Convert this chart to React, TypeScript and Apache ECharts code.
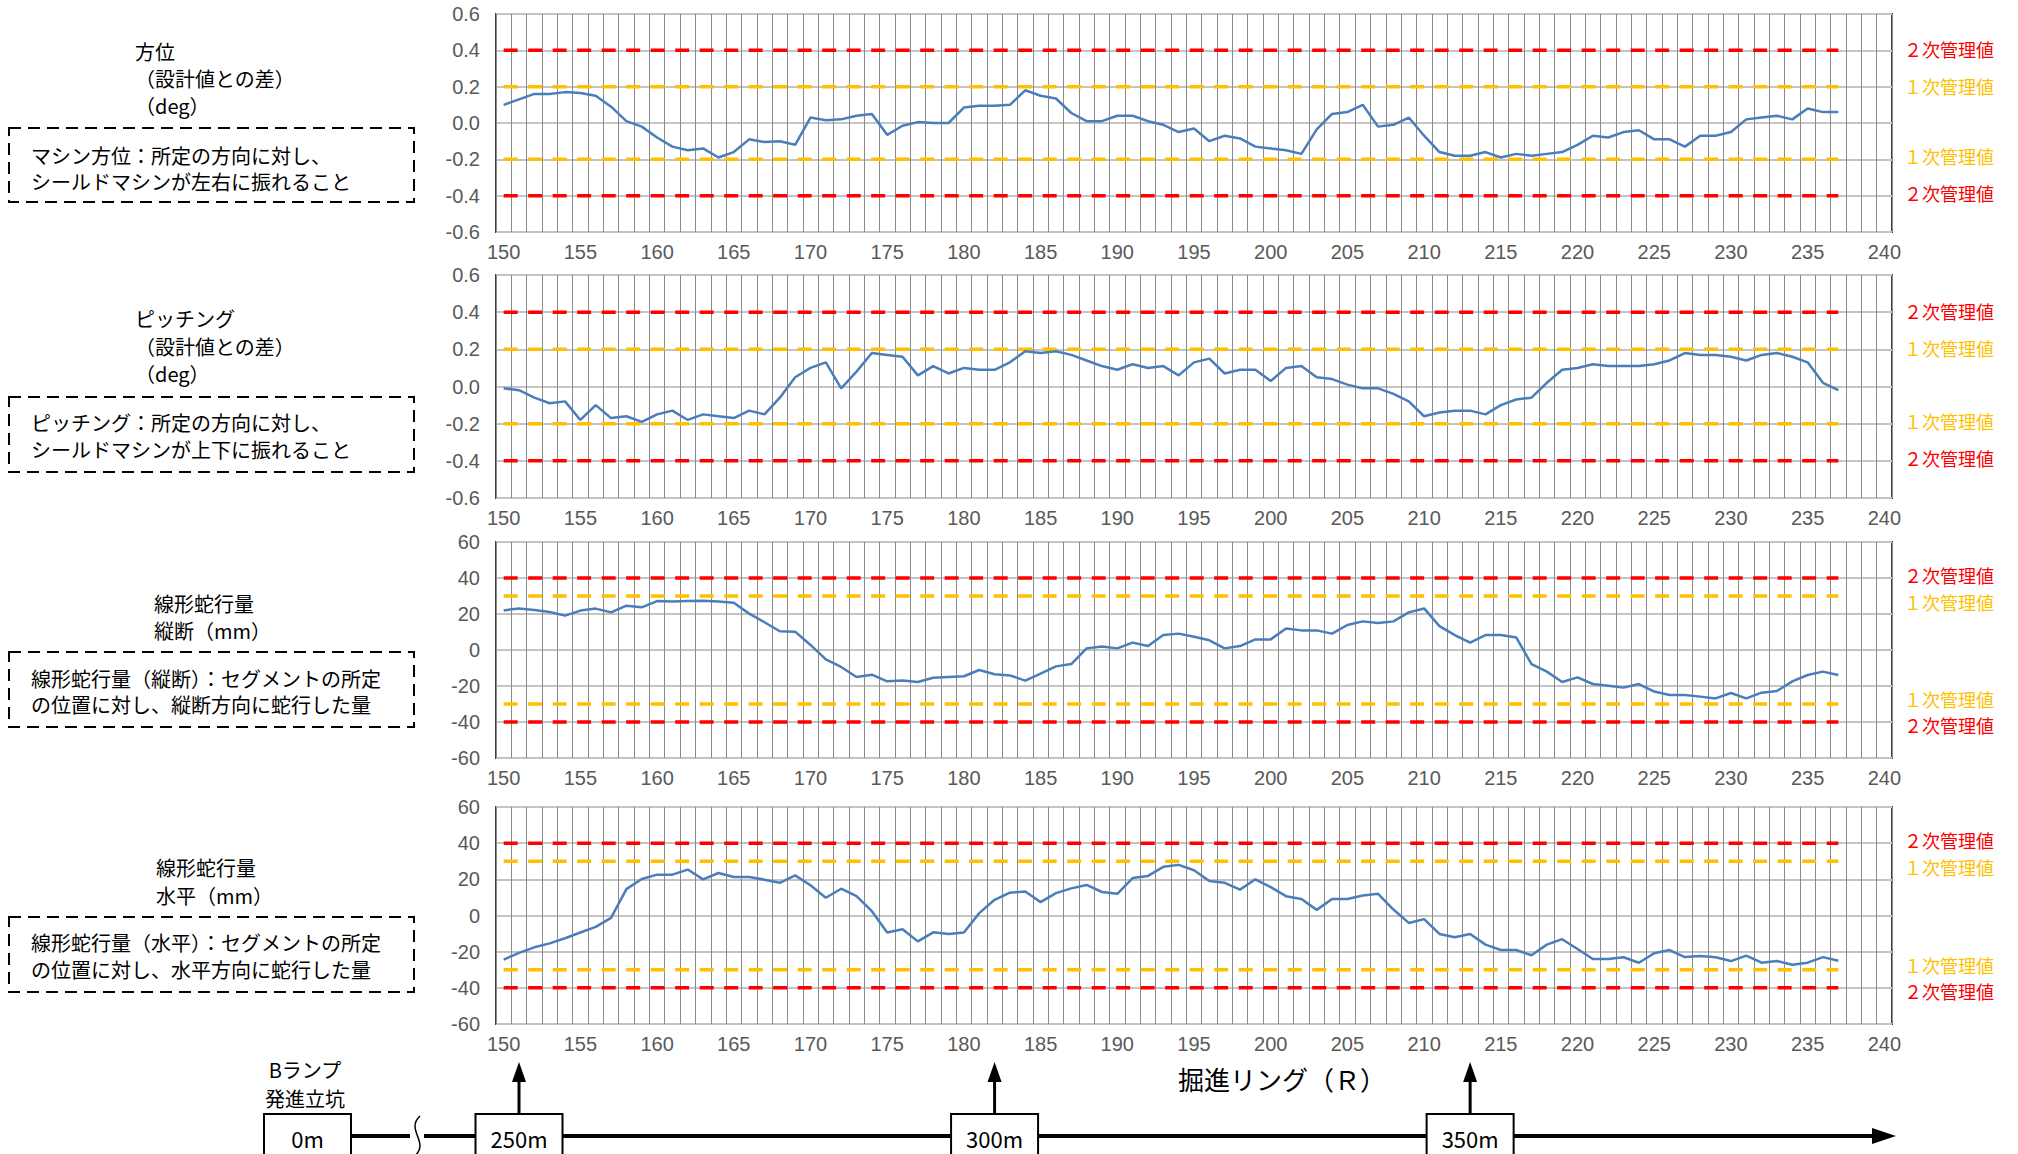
import React, { useEffect, useRef } from "react";
import * as echarts from "echarts";

// ring numbers on the x axis (category axis 150..240)
const ringCategories: string[] = [];
for (let r = 150; r <= 240; r++) ringCategories.push(String(r));

// 方位 (deg) rings 150..237
const azimuthDeg = [
  0.1, 0.13, 0.16, 0.16, 0.17, 0.165, 0.15, 0.09, 0.01, -0.02,
  -0.08, -0.13, -0.15, -0.14, -0.19, -0.16, -0.09, -0.105, -0.1, -0.12,
  0.03, 0.015, 0.02, 0.04, 0.05, -0.065, -0.015, 0.005, 0.0, 0.0,
  0.085, 0.095, 0.095, 0.1, 0.18, 0.15, 0.135, 0.055, 0.01, 0.01,
  0.04, 0.04, 0.01, -0.01, -0.05, -0.03, -0.1, -0.07, -0.085, -0.13,
  -0.14, -0.15, -0.17, -0.035, 0.05, 0.06, 0.1, -0.02, -0.01, 0.03,
  -0.07, -0.16, -0.18, -0.18, -0.16, -0.19, -0.17, -0.18, -0.17, -0.16,
  -0.12, -0.07, -0.08, -0.05, -0.04, -0.09, -0.09, -0.13, -0.07, -0.07,
  -0.05, 0.02, 0.03, 0.04, 0.02, 0.08, 0.06, 0.06,
];

// ピッチング (deg)
const pitchingDeg = [
  -0.01, -0.02, -0.06, -0.09, -0.08, -0.18, -0.1, -0.17, -0.16, -0.19,
  -0.15, -0.13, -0.18, -0.15, -0.16, -0.17, -0.13, -0.15, -0.06, 0.05,
  0.1, 0.13, -0.01, 0.08, 0.18, 0.17, 0.16, 0.06, 0.11, 0.07,
  0.1, 0.09, 0.09, 0.13, 0.19, 0.18, 0.19, 0.17, 0.14, 0.11,
  0.09, 0.12, 0.1, 0.11, 0.06, 0.13, 0.15, 0.07, 0.09, 0.09,
  0.03, 0.1, 0.11, 0.05, 0.04, 0.01, -0.01, -0.01, -0.04, -0.08,
  -0.16, -0.14, -0.13, -0.13, -0.15, -0.1, -0.07, -0.06, 0.02, 0.09,
  0.1, 0.12, 0.11, 0.11, 0.11, 0.12, 0.14, 0.18, 0.17, 0.17,
  0.16, 0.14, 0.17, 0.18, 0.16, 0.13, 0.02, -0.02,
];

// 線形蛇行量 縦断 (mm)
const verticalMm = [
  22.0, 23.1, 22.2, 21.1, 19.1, 21.9, 23.0, 20.9, 24.6, 23.7,
  27.2, 26.9, 27.2, 27.4, 26.9, 26.3, 20.2, 15.4, 10.4, 10.2,
  2.8, -5.2, -9.4, -15.0, -13.7, -17.4, -16.9, -17.8, -15.4, -15.0,
  -14.6, -11.1, -13.5, -14.1, -17.0, -13.1, -9.1, -7.8, 0.9, 1.9,
  0.9, 4.1, 2.2, 8.3, 9.1, 7.4, 5.4, 0.9, 2.2, 5.9,
  5.9, 12.0, 10.9, 10.9, 9.1, 13.9, 15.9, 15.0, 15.9, 20.9,
  23.1, 13.3, 8.3, 4.1, 8.3, 8.3, 7.0, -7.8, -12.0, -17.8,
  -15.2, -18.9, -19.8, -20.9, -18.9, -23.1, -25.0, -25.0, -25.9, -26.9,
  -23.9, -26.9, -23.7, -22.8, -17.4, -13.9, -12.0, -13.9,
];

// 線形蛇行量 水平 (mm)
const horizontalMm = [
  -24.4, -20.7, -17.6, -15.4, -12.6, -9.4, -6.3, -1.3, 14.6, 20.2,
  22.6, 22.6, 25.4, 20.0, 23.5, 21.3, 21.3, 19.8, 18.1, 22.2,
  16.7, 9.8, 14.8, 10.7, 2.4, -9.4, -7.6, -14.3, -9.3, -10.2,
  -9.4, 1.3, 8.7, 12.6, 13.3, 7.4, 12.4, 15.0, 16.9, 13.0,
  12.0, 20.7, 21.9, 26.9, 28.0, 25.0, 19.1, 18.1, 14.3, 20.0,
  15.7, 10.7, 9.1, 3.1, 9.1, 9.1, 11.1, 12.0, 3.3, -4.1,
  -2.0, -10.2, -12.0, -10.2, -16.1, -19.1, -19.1, -22.0, -16.1, -13.1,
  -18.5, -24.1, -24.1, -23.1, -26.1, -20.9, -19.1, -23.0, -22.4, -23.1,
  -25.2, -22.2, -26.1, -25.2, -27.2, -26.1, -23.0, -25.0,
];

const angleLimits = [0.2, 0.4]; // 1次, 2次
const mmLimits = [30, 40];
const limitNames = ["１次管理値", "２次管理値"];
const limitColors = ["#FFC000", "#FF0000"];

const distanceLabels = ["250m", "300m", "350m"];
const distanceRings = ["151", "182", "213"];

const JP = "'Noto Sans CJK JP', 'Noto Sans', sans-serif";
const NUM = "'Liberation Sans', Arial, sans-serif";
const AXIS_GREY = "#595959";

const panels = [
  { values: azimuthDeg, min: -0.6, max: 0.6, step: 0.2, dec: 1, limits: angleLimits, top: 14, height: 218, off: [-1, -1, -3, -3] },
  { values: pitchingDeg, min: -0.6, max: 0.6, step: 0.2, dec: 1, limits: angleLimits, top: 275, height: 223, off: [-1, -1, -3, -3] },
  { values: verticalMm, min: -60, max: 60, step: 20, dec: 0, limits: mmLimits, top: 542, height: 216, off: [-3, 6, -5, 3] },
  { values: horizontalMm, min: -60, max: 60, step: 20, dec: 0, limits: mmLimits, top: 807, height: 217, off: [-3, 6, -5, 3] },
];

const leftBlocks = [
  { titles: ["方位", "（設計値との差）", "（deg）"], titleX: 135, titleY: [51, 78, 105], box: [128, 74], lines: ["マシン方位：所定の方向に対し、", "シールドマシンが左右に振れること"], lineY: [155, 181] },
  { titles: ["ピッチング", "（設計値との差）", "（deg）"], titleX: 135, titleY: [318, 346, 373], box: [397, 75], lines: ["ピッチング：所定の方向に対し、", "シールドマシンが上下に振れること"], lineY: [422, 449] },
  { titles: ["線形蛇行量", "縦断（mm）"], titleX: 154, titleY: [603, 630], box: [652, 75], lines: ["線形蛇行量（縦断）：セグメントの所定", "の位置に対し、縦断方向に蛇行した量"], lineY: [678, 704] },
  { titles: ["線形蛇行量", "水平（mm）"], titleX: 156, titleY: [867, 895], box: [917, 75], lines: ["線形蛇行量（水平）：セグメントの所定", "の位置に対し、水平方向に蛇行した量"], lineY: [942, 969] },
];

function fmt(v: number, dec: number) {
  const p = Math.pow(10, dec);
  let r = Math.round(v * p) / p;
  if (r === 0) r = 0;
  return r.toFixed(dec);
}

function buildOption() {
  const grid: any[] = [];
  const xAxis: any[] = [];
  const yAxis: any[] = [];
  const series: any[] = [];
  const ringsUsed = ringCategories.slice(0, azimuthDeg.length);
  panels.forEach((p, i) => {
    grid.push({
      left: 496, width: 1396, top: p.top, height: p.height,
      show: true, borderColor: "#3f3f3f", borderWidth: 2, backgroundColor: "transparent",
    });
    xAxis.push({
      type: "category", gridIndex: i, data: ringCategories, boundaryGap: true,
      axisLine: { show: false }, axisTick: { show: false, interval: 0 },
      axisLabel: { interval: 4, fontSize: 20, color: AXIS_GREY, fontFamily: NUM, margin: 10 },
      splitLine: { show: true, interval: 0, lineStyle: { color: "#8a8a8a", width: 1 } },
    });
    yAxis.push({
      type: "value", gridIndex: i, min: p.min, max: p.max, interval: p.step,
      axisLine: { show: false }, axisTick: { show: false },
      axisLabel: { fontSize: 20, color: AXIS_GREY, fontFamily: NUM, margin: 16, formatter: (v: number) => fmt(v, p.dec) },
      splitLine: { show: true, lineStyle: { color: "#c4c4c4", width: 2 } },
    });
    p.limits.forEach((lim, k) => {
      [lim, -lim].forEach((val) => {
        series.push({
          type: "line", xAxisIndex: i, yAxisIndex: i, showSymbol: false, silent: true, z: 3,
          data: ringsUsed.map((r) => [r, val]),
          lineStyle: { color: limitColors[k], width: 3.5, type: [14, 10.5] },
        });
      });
    });
    series.push({
      type: "line", xAxisIndex: i, yAxisIndex: i, showSymbol: false, z: 5,
      data: p.values.map((v, j) => [ringsUsed[j], v]),
      lineStyle: { color: "#4A7EBB", width: 2.5 }, itemStyle: { color: "#4A7EBB" },
    });
  });
  return { animation: false, backgroundColor: "#ffffff", grid, xAxis, yAxis, series };
}

function txt(text: string, x: number, y: number, size: number, fill = "#000", align = "left", family = JP) {
  return { type: "text", x, y, silent: true, style: { text, fontSize: size, fontFamily: family, fill, align, verticalAlign: "middle" } };
}

export default function App() {
  const ref = useRef<HTMLDivElement>(null);
  useEffect(() => {
    const chart = echarts.init(ref.current!, undefined, { renderer: "svg", width: 2018, height: 1154 });
    chart.setOption(buildOption());
    const els: any[] = [];
    // left descriptions
    leftBlocks.forEach((b) => {
      b.titles.forEach((t, k) => els.push(txt(t, b.titleX, b.titleY[k], 20)));
      els.push({ type: "rect", silent: true, shape: { x: 9, y: b.box[0], width: 405, height: b.box[1] }, style: { fill: "none", stroke: "#000", lineWidth: 2, lineDash: [12, 7] } });
      b.lines.forEach((t, k) => els.push(txt(t, 31, b.lineY[k], 20)));
    });
    // right limit labels
    panels.forEach((p, i) => {
      const specs = [
        { v: p.limits[1], k: 1, o: p.off[0] },
        { v: p.limits[0], k: 0, o: p.off[1] },
        { v: -p.limits[0], k: 0, o: p.off[2] },
        { v: -p.limits[1], k: 1, o: p.off[3] },
      ];
      specs.forEach((s) => {
        const y = chart.convertToPixel({ yAxisIndex: i } as any, s.v) as number;
        els.push(txt(limitNames[s.k], 1904, y + s.o, 18, limitColors[s.k]));
      });
    });
    // bottom distance axis
    const lineY = 1136;
    els.push({ type: "line", silent: true, shape: { x1: 351, y1: lineY, x2: 410, y2: lineY }, style: { stroke: "#000", lineWidth: 4 } });
    els.push({ type: "line", silent: true, shape: { x1: 424, y1: lineY, x2: 1880, y2: lineY }, style: { stroke: "#000", lineWidth: 4 } });
    els.push({ type: "bezierCurve", silent: true, shape: { x1: 420, y1: 1116, cpx1: 405, cpy1: 1130, cpx2: 430, cpy2: 1142, x2: 415, y2: 1156 }, style: { stroke: "#000", lineWidth: 1.5, fill: "none" } });
    els.push({ type: "polygon", silent: true, shape: { points: [[1872, lineY - 8], [1896, lineY], [1872, lineY + 8]] }, style: { fill: "#000" } });
    // 0m box
    els.push({ type: "rect", silent: true, shape: { x: 264, y: 1114, width: 87, height: 60 }, style: { fill: "#fff", stroke: "#000", lineWidth: 2 } });
    els.push(txt("0m", 307.5, 1138, 22, "#000", "center"));
    els.push(txt("Bランプ", 305, 1069, 20, "#000", "center"));
    els.push(txt("発進立坑", 305, 1098, 20, "#000", "center"));
    distanceLabels.forEach((lab, k) => {
      const cx = chart.convertToPixel({ xAxisIndex: 3 } as any, distanceRings[k]) as number;
      els.push({ type: "line", silent: true, shape: { x1: cx, y1: 1114, x2: cx, y2: 1078 }, style: { stroke: "#000", lineWidth: 3 } });
      els.push({ type: "polygon", silent: true, shape: { points: [[cx - 7, 1082], [cx, 1062], [cx + 7, 1082]] }, style: { fill: "#000" } });
      els.push({ type: "rect", silent: true, shape: { x: cx - 43.5, y: 1114, width: 87, height: 60 }, style: { fill: "#fff", stroke: "#000", lineWidth: 2 } });
      els.push(txt(lab, cx, 1138, 22, "#000", "center"));
    });
    els.push(txt("掘進リング（Ｒ）", 1282, 1078, 26, "#000", "center"));
    chart.setOption({ graphic: { elements: els } });
    return () => chart.dispose();
  }, []);
  return (
    <div
      ref={ref}
      style={{ position: "fixed", left: 0, top: 0, width: 2018, height: 1154, background: "#fff" }}
    />
  );
}
